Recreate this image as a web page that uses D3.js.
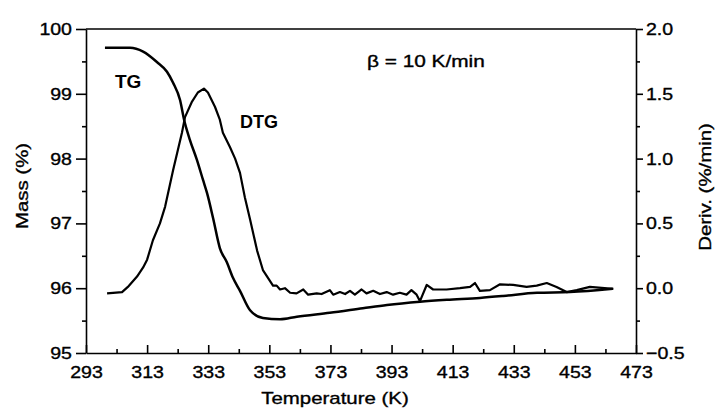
<!DOCTYPE html>
<html>
<head>
<meta charset="utf-8">
<script src="https://cdn.jsdelivr.net/npm/d3@7"></script>
<style>
  body { margin: 0; background: #fff; }
  text { font-family: "Liberation Sans", Arial, sans-serif; fill: #000; }
</style>
</head>
<body>
<script>
// data
var xTicks = [293, 313, 333, 353, 373, 393, 413, 433, 453, 473];
var massTicks = [95, 96, 97, 98, 99, 100];
var derivTicks = [-0.5, 0.0, 0.5, 1.0, 1.5, 2.0];

var tgTemp = [299.2, 307.4, 311.7, 316.2, 319.5, 321.5, 323.8, 325.1, 327.0, 329.3, 331.3, 332.6, 334.6, 336.8, 339.1, 341.1, 343.4, 346.7, 350.9, 356.5, 362.0, 372.8, 383.6, 391.5, 402.3, 411.1, 421.9, 429.5, 440.6, 451.4, 465.4];
var tgMass = [99.71, 99.71, 99.65, 99.49, 99.34, 99.17, 98.90, 98.60, 98.29, 97.98, 97.67, 97.47, 97.08, 96.62, 96.40, 96.16, 95.96, 95.66, 95.54, 95.52, 95.56, 95.62, 95.69, 95.74, 95.79, 95.82, 95.85, 95.88, 95.93, 95.94, 95.99];

var dtgTemp = [299.9, 304.8, 306.7, 309.7, 311.7, 313.0, 314.9, 317.2, 318.9, 321.5, 324.4, 325.4, 327.7, 329.6, 331.6, 332.9, 335.2, 336.8, 337.8, 340.1, 341.8, 343.4, 345.0, 346.7, 349.0, 350.9, 354.2, 355.4, 356.5, 358.1, 359.8, 361.9, 364.1, 365.7, 368.5, 370.1, 372.8, 373.9, 376.1, 377.8, 379.4, 381.0, 383.2, 384.8, 387.0, 389.2, 391.4, 393.5, 395.7, 397.9, 399.5, 401.2, 402.3, 404.5, 406.6, 411.0, 415.4, 418.7, 420.3, 421.9, 425.2, 428.5, 432.8, 437.2, 440.5, 443.8, 447.0, 450.3, 453.6, 457.9, 465.6];
var dtgDeriv = [-0.04, -0.03, 0.01, 0.09, 0.16, 0.22, 0.37, 0.50, 0.63, 0.91, 1.20, 1.32, 1.44, 1.51, 1.54, 1.51, 1.40, 1.30, 1.20, 1.09, 1.00, 0.89, 0.70, 0.53, 0.29, 0.14, 0.02, 0.02, -0.01, 0.00, -0.035, -0.04, -0.01, -0.05, -0.04, -0.045, -0.015, -0.05, -0.03, -0.045, -0.02, -0.05, -0.01, -0.04, -0.02, -0.045, -0.03, -0.05, -0.035, -0.05, -0.015, -0.05, -0.10, 0.025, -0.01, -0.01, 0.00, 0.01, 0.04, -0.02, -0.015, 0.03, 0.025, 0.01, 0.02, 0.04, 0.01, -0.03, -0.015, 0.01, -0.005];

var width = 717, height = 410;
// plot box ("top" is a reserved window property, so prefix these)
var plotL = 86, plotR = 636, plotT = 29, plotB = 353;

var svg = d3.select('body').append('svg')
    .attr('width', width)
    .attr('height', height);

var x = d3.scaleLinear().domain([293, 473]).range([plotL, plotR]);
var yMass = d3.scaleLinear().domain([95, 100]).range([plotB, plotT]);
var yDeriv = d3.scaleLinear().domain([-0.5, 2.0]).range([plotB, plotT]);

// the scan's lettering is a bit wider and heavier than Arial
function stretch(sel, k) {
  sel.each(function () {
    var len = this.getComputedTextLength();
    d3.select(this).attr('textLength', len * k).attr('lengthAdjust', 'spacingAndGlyphs')
      .attr('stroke', '#000').attr('stroke-width', 0.35);
  });
}

// frame top
svg.append('line')
    .attr('x1', plotL).attr('x2', plotR)
    .attr('y1', plotT).attr('y2', plotT)
    .attr('stroke', '#000').attr('stroke-width', 1.6);

// bottom axis, ticks point up into the plot
var gx = svg.append('g')
    .attr('transform', 'translate(0,' + plotB + ')')
    .call(d3.axisBottom(x).tickValues(xTicks).tickSizeInner(-8).tickSizeOuter(0).tickPadding(13).tickFormat(d3.format('d')));
svg.append('g')
    .attr('transform', 'translate(0,' + plotB + ')')
    .call(d3.axisBottom(x).tickValues(d3.range(303, 473, 20)).tickSize(-4).tickFormat(''))
    .select('.domain').remove();

// left axis (mass)
var gl = svg.append('g')
    .attr('transform', 'translate(' + plotL + ',0)')
    .call(d3.axisLeft(yMass).tickValues(massTicks).tickSize(10).tickPadding(4).tickSizeOuter(0).tickFormat(d3.format('d')));
svg.append('g')
    .attr('transform', 'translate(' + plotL + ',0)')
    .call(d3.axisLeft(yMass).tickValues([95.5, 96.5, 97.5, 98.5, 99.5]).tickSize(4).tickFormat(''))
    .select('.domain').remove();

// right axis (derivative)
var gr = svg.append('g')
    .attr('transform', 'translate(' + plotR + ',0)')
    .call(d3.axisRight(yDeriv).tickValues(derivTicks).tickSize(7).tickPadding(3).tickSizeOuter(0).tickFormat(d3.format('.1f')));
svg.append('g')
    .attr('transform', 'translate(' + plotR + ',0)')
    .call(d3.axisRight(yDeriv).tickValues([-0.25, 0.25, 0.75, 1.25, 1.75]).tickSize(4).tickFormat(''))
    .select('.domain').remove();

svg.selectAll('.tick line, .domain').attr('stroke', '#000').attr('stroke-width', 1.6);
[gx, gl, gr].forEach(function (g) {
  g.selectAll('text').attr('font-size', 17).attr('font-family', '"Liberation Sans", Arial, sans-serif').attr('fill', '#000');
});
stretch(svg.selectAll('.tick text'), 1.15);

// curves
var tgLine = d3.line()
    .x(function (d) { return x(d[0]); })
    .y(function (d) { return yMass(d[1]); })
    .curve(d3.curveMonotoneX);
var dtgLine = d3.line()
    .x(function (d) { return x(d[0]); })
    .y(function (d) { return yDeriv(d[1]); });

svg.append('path')
    .datum(d3.zip(tgTemp, tgMass))
    .attr('d', tgLine)
    .attr('fill', 'none').attr('stroke', '#000').attr('stroke-width', 2.5)
    .attr('stroke-linejoin', 'round');
svg.append('path')
    .datum(d3.zip(dtgTemp, dtgDeriv))
    .attr('d', dtgLine)
    .attr('fill', 'none').attr('stroke', '#000').attr('stroke-width', 2.2)
    .attr('stroke-linejoin', 'round');

// labels
svg.append('text').attr('x', 115).attr('y', 88)
    .attr('font-size', 19).attr('font-weight', 'bold').text('TG');
svg.append('text').attr('x', 240).attr('y', 128)
    .attr('font-size', 18).attr('font-weight', 'bold').text('DTG');
var t3 = svg.append('text').attr('x', 367).attr('y', 67)
    .attr('font-size', 16).text('β = 10  K/min');
stretch(t3, 1.3);

var xt = svg.append('text').attr('x', 335).attr('y', 404)
    .attr('text-anchor', 'middle').attr('font-size', 17).text('Temperature (K)');
var yl = svg.append('text').attr('transform', 'translate(28,186) rotate(-90)')
    .attr('text-anchor', 'middle').attr('font-size', 17).text('Mass (%)');
var yr = svg.append('text').attr('transform', 'translate(711,187) rotate(-90)')
    .attr('text-anchor', 'middle').attr('font-size', 17).text('Deriv. (%/min)');
stretch(xt, 1.2);
stretch(yl, 1.2);
stretch(yr, 1.2);
</script>
</body>
</html>
